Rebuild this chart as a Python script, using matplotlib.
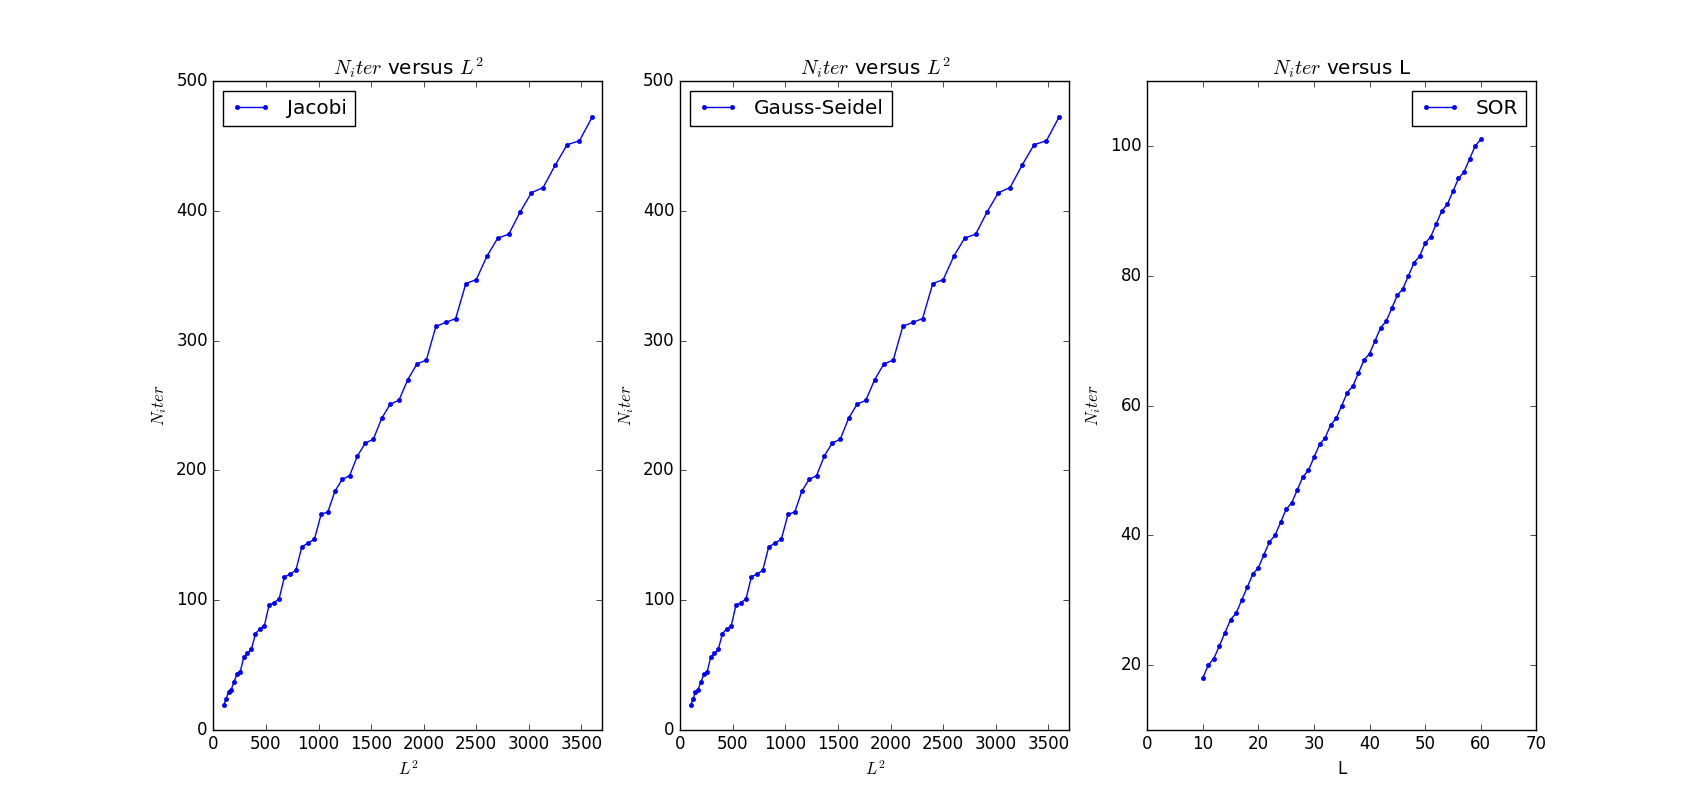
import numpy as np
import matplotlib
matplotlib.use("Agg")
import matplotlib.pyplot as plt

plt.style.use("classic")

# grid sizes
L = np.arange(10, 61)

# iterations
jacobi = [19, 24, 29, 31, 37, 43, 45, 56, 59, 62,
          74, 78, 80, 96, 98, 101, 118, 120, 123, 141,
          144, 147, 166, 168, 184, 193, 196, 211, 221, 224,
          240, 251, 254, 270, 282, 285, 311, 314, 317, 344,
          347, 365, 379, 382, 399, 414, 418, 435, 451, 454, 472]
gauss_seidel = list(jacobi)
sor = [18, 20, 21, 23, 25, 27, 28, 30, 32, 34,
       35, 37, 39, 40, 42, 44, 45, 47, 49, 50,
       52, 54, 55, 57, 58, 60, 62, 63, 65, 67,
       68, 70, 72, 73, 75, 77, 78, 80, 82, 83,
       85, 86, 88, 90, 91, 93, 95, 96, 98, 100, 101]

fig = plt.figure(figsize=(17.07, 8.11))

plt.subplot(1, 3, 1)
plt.plot(L**2, jacobi, "b.-", label="Jacobi")
plt.xlim(0, 3700)
plt.ylim(0, 500)
plt.title(r"$N_iter$ versus $L^2$")
plt.xlabel(r"$L^2$")
plt.ylabel(r"$N_iter$")
plt.legend(loc="upper left")

plt.subplot(1, 3, 2)
plt.plot(L**2, gauss_seidel, "b.-", label="Gauss-Seidel")
plt.xlim(0, 3700)
plt.ylim(0, 500)
plt.title(r"$N_iter$ versus $L^2$")
plt.xlabel(r"$L^2$")
plt.ylabel(r"$N_iter$")
plt.legend(loc="upper left")

plt.subplot(1, 3, 3)
plt.plot(L, sor, "b.-", label="SOR")
plt.xlim(0, 70)
plt.ylim(10, 110)
plt.title(r"$N_iter$ versus L")
plt.xlabel("L")
plt.ylabel(r"$N_iter$")
plt.legend(loc="upper right")

plt.savefig("out.png", dpi=100)
